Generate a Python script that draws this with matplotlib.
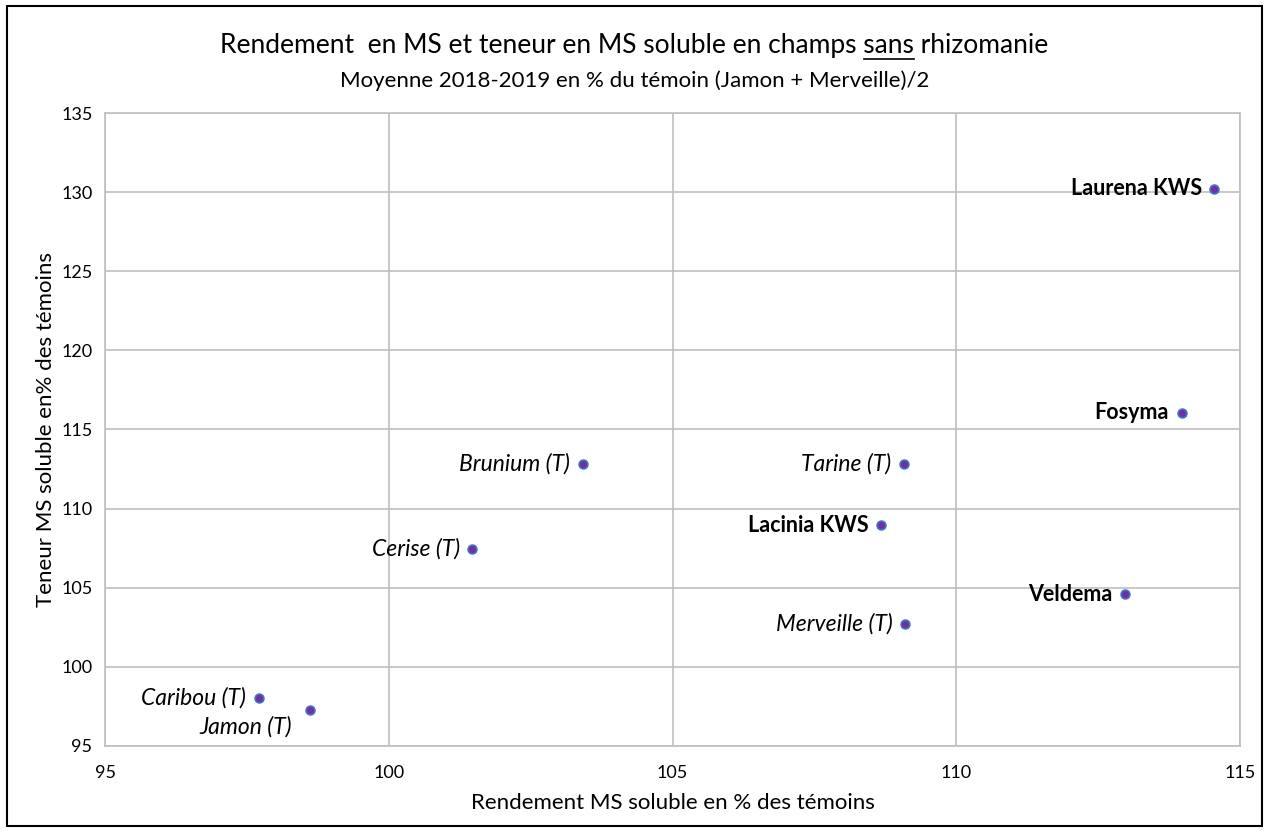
import matplotlib.pyplot as plt
from matplotlib.patches import Rectangle

plt.rcParams['font.family'] = ['Lato', 'DejaVu Sans']

# Données
varietes = ["Laurena KWS", "Fosyma", "Brunium (T)", "Tarine (T)", "Lacinia KWS",
            "Cerise (T)", "Veldema", "Merveille (T)", "Caribou (T)", "Jamon (T)"]
rendement = [114.55, 113.97, 103.42, 109.08, 108.68, 101.47, 112.97, 109.10, 97.71, 98.61]
teneur = [130.2, 116.05, 112.8, 112.8, 108.95, 107.45, 104.6, 102.7, 98.05, 97.25]
gras = [True, True, False, False, True, False, True, False, False, False]
decalages = {"Jamon (T)": (-13, -12)}

fig = plt.figure(figsize=(12.69, 8.32), dpi=100)
ax = fig.add_axes([105/1269, 1 - 746/832, (1240-105)/1269, (746-113)/832])

# points
ax.scatter(rendement, teneur, s=40, color="#7030A0", edgecolors="#4472C4",
           linewidths=1.2, zorder=3)

# étiquettes
for nom, x, y, g in zip(varietes, rendement, teneur, gras):
    dx, dy = decalages.get(nom, (-9, 0))
    ax.annotate(nom, (x, y), xytext=(dx, dy), textcoords="offset points",
                ha="right", va="center", fontsize=15.5 if g else 16.5,
                fontweight="bold" if g else "normal",
                fontstyle="normal" if g else "italic", color="black", zorder=4)

ax.set_xlim(95, 115)
ax.set_ylim(95, 135)
ax.set_xticks([95, 100, 105, 110, 115])
ax.set_yticks(range(95, 136, 5))
ax.grid(True, color="#BFBFBF", linewidth=1.2)
ax.set_axisbelow(True)
for s in ax.spines.values():
    s.set_color("#BFBFBF")
    s.set_linewidth(1.2)
ax.tick_params(length=0, labelsize=13, pad=9)
ax.tick_params(axis="x", pad=14)

ax.set_xlabel("Rendement MS soluble en % des témoins", fontsize=16, labelpad=8)
ax.set_ylabel("Teneur MS soluble en% des témoins", fontsize=16, labelpad=4)

# titre avec "sans" souligné
taille = 19
titre = "Rendement  en MS et teneur en MS soluble en champs sans rhizomanie"
t = fig.text(0.5, 1 - 45/832, titre, ha="center", va="center", fontsize=taille)
fig.text(0.5, 1 - 81/832, "Moyenne 2018-2019 en % du témoin (Jamon + Merveille)/2",
         ha="center", va="center", fontsize=16)

fig.canvas.draw()
r = fig.canvas.get_renderer()
bb = t.get_window_extent(r)
avant = fig.text(0, 0, "Rendement  en MS et teneur en MS soluble en champs ", fontsize=taille)
mot = fig.text(0, 0, "sans", fontsize=taille)
w_avant = avant.get_window_extent(r).width
w_mot = mot.get_window_extent(r).width
avant.remove()
mot.remove()
x0 = bb.x0 + w_avant
fig.add_artist(plt.Line2D([x0 / 1269, (x0 + w_mot) / 1269],
                          [(bb.y0 - 1) / 832, (bb.y0 - 1) / 832],
                          color="black", linewidth=1.2))

# cadre noir autour de la figure
fig.add_artist(Rectangle((7/1269, 6/832), 1255/1269, 820/832, transform=fig.transFigure,
                         fill=False, edgecolor="black", linewidth=1.5))

fig.savefig("out.png", dpi=100)
